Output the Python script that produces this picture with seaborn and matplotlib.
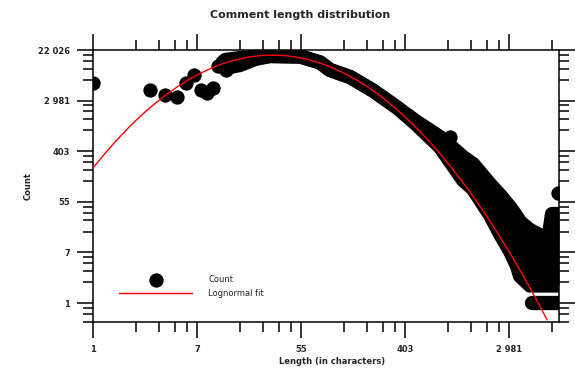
import numpy as np
import matplotlib
matplotlib.use("Agg")
import matplotlib.pyplot as plt
import seaborn as sns
from matplotlib.ticker import NullFormatter

# Points lisibles individuellement (commentaires courts, bosse, pic a la longueur max)
pt_length = [1, 3, 4, 5, 6, 7, 8, 9, 10, 11, 12, 13, 958, 7650]
pt_count = [5980, 4530, 3720, 3440, 6000, 8200, 4530, 4020, 4900, 11700, 13700, 10000, 706, 77]

# Nuage dense : bord haut / bas de la bande de points (centres des points)
band_length = [12.7, 16.9, 22.5, 30.1, 53.6, 78.6, 95.4, 140, 218, 346, 508, 790,
               1231, 1493, 2069, 2507, 3040, 3480, 3687, 4467, 5740, 6310, 6820, 7800]
band_hi = [14820, 16050, 16700, 17380, 17040, 13500, 9990, 7580, 4440, 2270, 1280, 707,
           321, 243, 110, 71.4, 44.4, 29.9, 24.6, 17.9, 13.6, 11.1, 33.7, 33.7]
band_lo = [10820, 12180, 15420, 17380, 17040, 13500, 9990, 7580, 4440, 2270, 1137, 476,
           129, 90.6, 32.4, 15.3, 7.8, 4.3, 2.9, 2, 2, 2, 2, 2]

# Queue : longueurs vues une seule fois
tail_count = [1]
tail_start = [4600]
tail_end = [7800]

# Courbe lognormale ajustee
fit_length = [1, 1.25, 1.5, 2, 2.5, 3, 4, 5, 6.5, 8, 10, 12, 15, 20, 25, 32, 40, 50, 65,
              80, 100, 130, 160, 200, 250, 320, 400, 500, 650, 800, 1000, 1300, 1600,
              2000, 2500, 3000, 3700, 4500, 5300, 6200]
fit_count = [208, 363, 558, 1043, 1625, 2266, 3650, 5057, 7080, 8910, 11000, 12710,
             14670, 16690, 17670, 18030, 17650, 16650, 14810, 13020, 10930, 8480, 6690,
             5000, 3610, 2400, 1600, 1027, 581, 357, 203.6, 100.5, 55.4, 28.2, 13.8, 7.5,
             3.6, 1.76, 0.95, 0.515]

tick_labels = ["1", "7", "55", "403", "2 981", "22 026"]

DOT = 10.3  # diametre des points en pt

sns.set_style("ticks")
plt.rcParams["font.family"] = ["DejaVu Sans"]

fig = plt.figure(figsize=(5.75, 3.78), dpi=100)
ax = fig.add_axes([93 / 575, 1 - 322 / 378, 466 / 575, 272 / 378])
ax.set_xscale("log")
ax.set_yscale("log")

# bande dense : les points se recouvrent, on la trace d'un bloc
ax.fill_between(band_length, band_lo, band_hi, color="black", lw=0)
for edge in (band_hi, band_lo):
    ax.plot(band_length, edge, color="black", lw=DOT,
            solid_capstyle="round", solid_joinstyle="round")
for c, a, b in zip(tail_count, tail_start, tail_end):
    ax.plot([a, b], [c, c], color="black", lw=DOT, solid_capstyle="round")

sns.scatterplot(x=pt_length, y=pt_count, ax=ax, color="black", s=DOT ** 2,
                linewidth=0, label="Count")
sns.lineplot(x=fit_length, y=fit_count, ax=ax, color="red", lw=1.0,
             label="Lognormal fit", zorder=5)

# graduations en puissances paires de e, mineures lineaires entre deux majeures
majors = np.exp(np.arange(-2, 12, 2))
minors = [a + (b - a) * j / 5 for a, b in zip(majors[:-1], majors[1:]) for j in range(1, 5)]
ax.set_xticks(majors[1:], tick_labels)
ax.set_yticks(majors[1:], tick_labels)
ax.set_xticks(minors, minor=True)
ax.set_yticks(minors, minor=True)
ax.xaxis.set_minor_formatter(NullFormatter())
ax.yaxis.set_minor_formatter(NullFormatter())
ax.set_xlim(1, 7800)
ax.set_ylim(0.472, np.exp(10))

ax.tick_params(which="both", direction="out", width=1.1, color="black",
               top=True, right=True, labeltop=False, labelright=False)
ax.tick_params(which="major", length=11.5, labelsize=6, pad=5)
ax.tick_params(which="minor", length=7.2)
for lab in ax.get_xticklabels() + ax.get_yticklabels():
    lab.set_fontweight("bold")
for sp in ax.spines.values():
    sp.set_visible(True)
    sp.set_linewidth(1.1)
    sp.set_color("black")

ax.set_xlabel("Length (in characters)", fontsize=6, fontweight="bold")
ax.set_ylabel("Count", fontsize=6, fontweight="bold")
ax.xaxis.set_label_coords(0.513, -0.13)
ax.yaxis.set_label_coords(-0.13, 0.5)

fig.text(0.522, 0.961, "Comment length distribution", ha="center", va="center",
         fontsize=8, fontweight="bold")

ax.legend(loc="lower left", bbox_to_anchor=(0.056, 0.09), frameon=False,
          fontsize=6, handlelength=8.8, handletextpad=1.9, borderpad=0,
          borderaxespad=0, labelspacing=0.5)

fig.savefig("out.png", dpi=100)
